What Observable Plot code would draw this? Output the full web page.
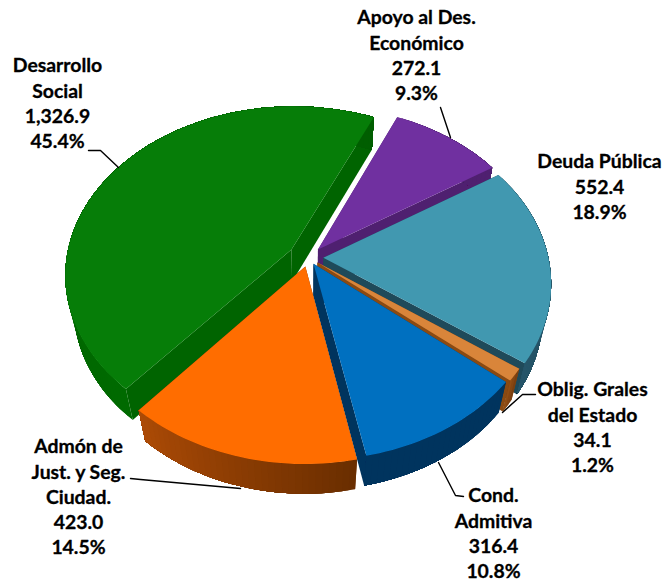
<!DOCTYPE html>
<html><head><meta charset="utf-8">
<style>html,body{margin:0;padding:0;background:#fff}svg{display:block}</style>
<script src="https://cdn.jsdelivr.net/npm/d3@7"></script>
<script src="https://cdn.jsdelivr.net/npm/@observablehq/plot@0.6"></script>
</head><body><script>
// Data, clockwise from the first slice
const names = ["Apoyo al Des.\nEconómico","Deuda Pública","Oblig. Grales\ndel Estado","Cond.\nAdmitiva","Admón de\nJust. y Seg.\nCiudad.","Desarrollo\nSocial"];
const values = [272.1,552.4,34.1,316.4,423.0,1326.9];
const valueLabels = ["272.1","552.4","34.1","316.4","423.0","1,326.9"];
const percents = ["9.3%","18.9%","1.2%","10.8%","14.5%","45.4%"];
// Styling per slice
const topColors = ["#7030A0","#4198B0","#D9853A","#0070C0","#FF6D00","#067D08"];
const sideColors = ["#4F2070","#1F4A5A","#8A4A12","#00345E","#6E3000","#006400"];
const arcFrom = ["#4F2070","#1F4A5A","#7A3F10","#00345E","#6A2E00","#006A00"];
const arcTo = ["#4F2070","#26566A","#A85A18","#00345E","#B04C06","#005E00"];
const explode = [0.065,0.066,0.05,0.043,0.055,0.09];
const drawOrder = [5,0,1,2,3,4];
// Pie view
const view = {cx:308, cy:257, f:225, tilt:47.6*Math.PI/180, D:4.65, depth:0.22, start:24};
const project = (X,Y,Z) => {
  const yc = Y*Math.sin(view.tilt) - Z*Math.cos(view.tilt);
  const zc = Y*Math.cos(view.tilt) + Z*Math.sin(view.tilt);
  const s = view.D/(view.D - zc);
  return {x: view.cx + view.f*X*s, y: view.cy + view.f*yc*s};
};
const total = d3.sum(values);
let acc = view.start;
const slices = values.map((v,i)=>{
  const a0 = acc, a1 = acc + v/total*360; acc = a1;
  const mid = (a0+a1)/2*Math.PI/180;
  const ox = Math.sin(mid)*explode[i], oy = -Math.cos(mid)*explode[i];
  const pt = (deg,Z,r=1)=>{const t=deg*Math.PI/180; return project(ox+r*Math.sin(t),oy-r*Math.cos(t),Z);};
  return {i,a0,a1,mid,pt};
});
const poly = (pts,color,id)=>pts.map(p=>({...p,color,id}));
const marks = [];
for (const k of drawOrder) {
  const s = slices[k], h = -view.depth;
  const angs = d3.range(s.a0, s.a1, 1.5).concat([s.a1]);
  const sides = [
    ...poly([s.pt(0,0,0),s.pt(s.a0,0),s.pt(s.a0,h),s.pt(0,h,0)],sideColors[k],"a"),
    ...poly([s.pt(0,0,0),s.pt(s.a1,0),s.pt(s.a1,h),s.pt(0,h,0)],sideColors[k],"b")
  ];
  marks.push(Plot.line(sides,{x:"x",y:"y",z:"id",fill:"color",stroke:"none"}));
  const shade = d3.interpolateRgb(arcFrom[k],arcTo[k]);
  // Each wall band runs to the slice's far end, so the next band paints over it without a seam
  angs.slice(0,-1).forEach((b,j)=>{
    const rest = angs.slice(j);
    const band = poly([...rest.map(a=>s.pt(a,0)),...rest.slice().reverse().map(a=>s.pt(a,h))],shade(j/angs.length),"w");
    marks.push(Plot.line(band,{x:"x",y:"y",z:"id",fill:"color",stroke:"none"}));
  });
  marks.push(Plot.line(poly([s.pt(0,0,0),...angs.map(a=>s.pt(a,0))],topColors[k],"t"),{x:"x",y:"y",z:"id",fill:"color",stroke:"none"}));
}
// Label placement
const labelX = [416,599,592,493,78,57];
const labelY = [6,150,378,484,435,54];
const lineGap = 25.2;
const fontSize = 19.4;
const labelText = names.map((n,i)=>`${n}\n${valueLabels[i]}\n${percents[i]}`);
const labels = labelText.map((t,i)=>({t,x:labelX[i],y:labelY[i]}));
// Leaders
const leaderBends = [[[440,107]],[],[[535,394],[522,394]],[[463,496],[455,495]],[[130,478],[140,479]],[[88,150],[100,150]]];
const leaderEnds = [[450,137],null,[502,412],[438,462],[240,488],[118,167]];
const leaderRows = leaderBends.flatMap((b,i)=>leaderEnds[i]?[...b,leaderEnds[i]].map(p=>({x:p[0],y:p[1],id:i})):[]);
marks.push(Plot.line(leaderRows,{x:"x",y:"y",z:"id",stroke:"#000",strokeWidth:1.4}));
marks.push(Plot.text(labels,{x:"x",y:"y",text:"t",lineHeight:lineGap/fontSize,fontSize,fontWeight:700,fontFamily:"Lato",fill:"#000",stroke:"#000",strokeWidth:0.3,textAnchor:"middle",lineAnchor:"top"}));
document.body.append(Plot.plot({width:662,height:579,margin:0,
  x:{domain:[0,662],range:[0,662],axis:null},
  y:{domain:[0,579],range:[0,579],axis:null},
  color:{type:"identity"},style:{background:"#fff"},marks}));
</script></body></html>
